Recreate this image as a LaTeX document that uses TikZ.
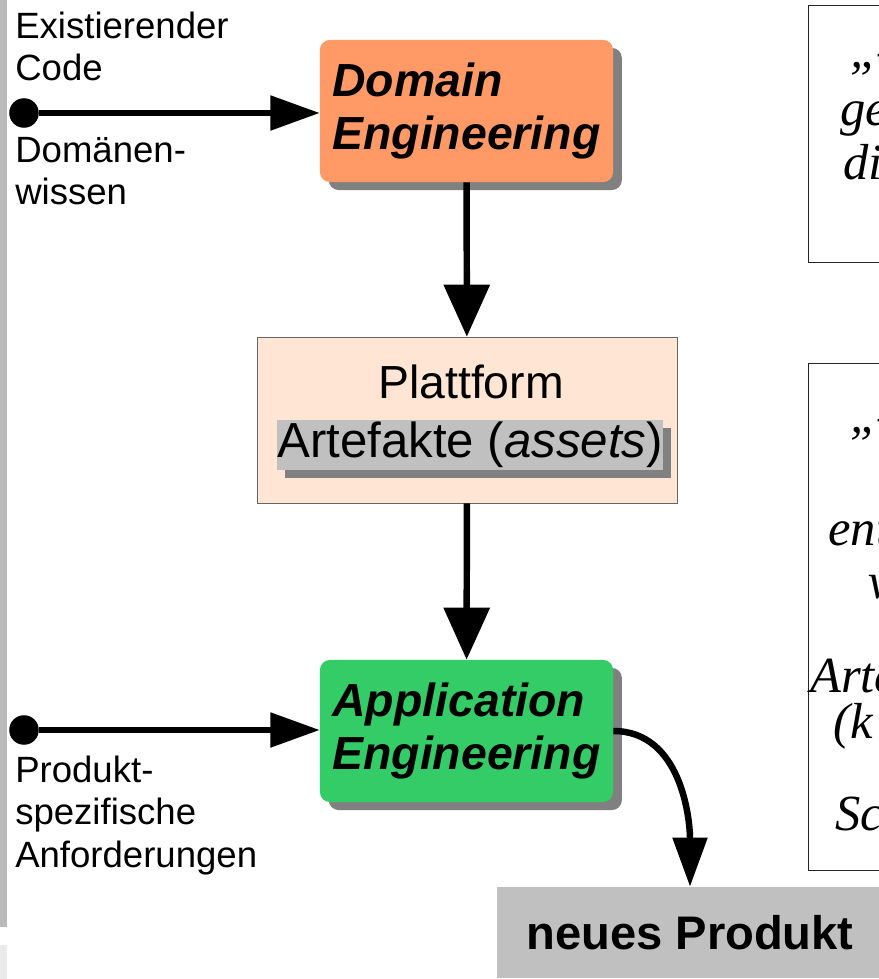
\documentclass[tikz,border=0pt]{standalone}
\usepackage{fontspec}
\setmainfont{Liberation Sans}
\newfontfamily\quoteserif{Liberation Serif}
\usetikzlibrary{arrows.meta,positioning,shadows}
\definecolor{domainorange}{RGB}{255,153,102}
\definecolor{appgreen}{RGB}{51,204,102}
\definecolor{platpeach}{RGB}{255,230,212}
\definecolor{assetgray}{RGB}{192,192,192}
\definecolor{shadowgray}{RGB}{128,128,128}
\tikzset{engbox/.style={rounded corners=7pt, minimum width=7.325cm, minimum height=3.55cm, inner sep=0pt, align=left,
    font=\bfseries\itshape\fontsize{33}{38}\selectfont,
    drop shadow={shadow xshift=0.22cm, shadow yshift=-0.2cm, fill=shadowgray, opacity=1}}}
\tikzset{sidelabel/.style={anchor=north west, inner sep=0pt, align=left, font=\fontsize{26}{30}\selectfont}}
\tikzset{srcdot/.style={circle, fill=black, minimum size=21pt, inner sep=0pt}}
\tikzset{inarr/.style={draw, line width=4.3pt, -{Triangle[length=35pt,width=24pt]}}}
\tikzset{bigarr/.style={draw, line width=4.6pt, -{Triangle[length=37pt,width=32pt]}}}
\tikzset{quotebox/.style={draw=black!85, line width=0.8pt, anchor=north west, minimum width=3cm, inner sep=0pt}}
\tikzset{quotetext/.style={anchor=base west, inner sep=0pt, font=\quoteserif\itshape\fontsize{36}{41}\selectfont}}

\begin{document}
\begin{tikzpicture}[x=0.025cm, y=-0.025cm]
    \clip (0,0) rectangle (879,979);
    % grey bar on the left margin
    \fill[black!27] (0,0) rectangle (7,927);
    \fill[black!8] (0,945) rectangle (7,979);

    \node[engbox, fill=domainorange] (dom) at (466.5,111) {Domain\\Engineering};
    \node[draw=black!60, fill=platpeach, minimum width=10.5cm, minimum height=4.15cm] (platform) at (467,420) {};
    \node[anchor=base, inner sep=0pt, font=\fontsize{33}{38}\selectfont] (plattitle) at (471,398) {Plattform};
    \node[fill=assetgray, minimum width=9.65cm, minimum height=1.25cm, inner sep=0pt,
        font=\fontsize{35}{40}\selectfont,
        drop shadow={shadow xshift=0.2cm, shadow yshift=-0.2cm, fill=shadowgray, opacity=1}] (assets) at (470,445) {Artefakte (\textit{assets})};
    \node[engbox, fill=appgreen] (app) at (466.5,731) {Application\\Engineering};
    \node[fill=assetgray, minimum width=9.65cm, minimum height=2.275cm, inner sep=0pt,
        font=\bfseries\fontsize{33.5}{38}\selectfont] (prod) at (690,932.5) {neues Produkt};

    % inputs
    \node[srcdot] (srcA) at (24,113) {};
    \node[srcdot] (srcB) at (24,730) {};
    \node[sidelabel] (labA) at (15,12) {Existierender\\Code};
    \node[sidelabel] (labB) at (15,137) {Domänen-\\wissen};
    \node[sidelabel] (labC) at (15,756) {Produkt-\\spezifische\\Anforderungen};

    \draw[inarr] (srcA) -- (srcA -| dom.west);
    \draw[inarr] (srcB) -- (srcB -| app.west);
    \draw[bigarr] (dom) -- (platform);
    \draw[bigarr] (platform) -- (app);
    \draw[inarr, line width=4.6pt, -{Triangle[length=35pt,width=24pt]}] (app.east) to[out=0, in=90] (prod.north);

    % quotes on the right, cut by the page edge
    \node[quotebox, minimum height=6.425cm] (quoteA) at (808,5) {};
    \node[quotetext] (qa1) at (850,68) {„–};
    \node[quotetext] (qa2) at (840,126) {ge};
    \node[quotetext] (qa3) at (843,179) {di};
    \node[quotebox, minimum height=12.675cm] (quoteB) at (808,363) {};
    \node[quotetext] (qb1) at (850,432) {„–};
    \node[quotetext] (qb2) at (828,545) {ent};
    \node[quotetext] (qb3) at (868,598) {v};
    \node[quotetext] (qb4) at (810,692) {Arte};
    \node[quotetext] (qb5) at (833,738) {(k};
    \node[quotetext] (qb6) at (835,830) {Sc};
\end{tikzpicture}
\end{document}
